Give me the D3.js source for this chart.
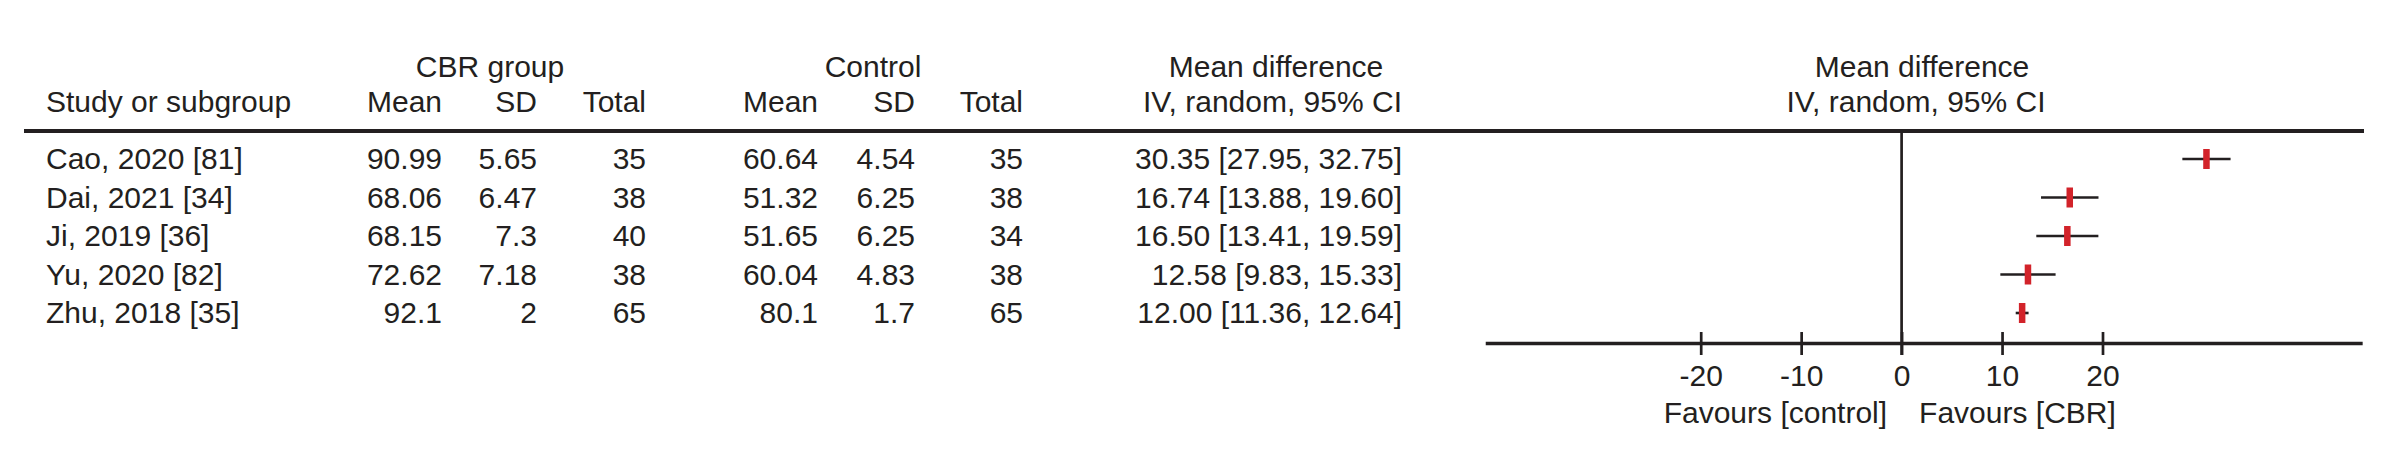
<!DOCTYPE html>
<html>
<head>
<meta charset="utf-8">
<script src="https://cdn.jsdelivr.net/npm/d3@7"></script>
<style>
  html, body { margin: 0; padding: 0; background: #ffffff; }
  svg { display: block; }
  text { font-family: "Liberation Sans", Arial, sans-serif; font-size: 30px; fill: #231f20; }
</style>
</head>
<body>
<svg id="chart" width="2405" height="454"></svg>
<script>
// ---------- data ----------
const studies   = ["Cao, 2020 [81]", "Dai, 2021 [34]", "Ji, 2019 [36]", "Yu, 2020 [82]", "Zhu, 2018 [35]"];
const cbrMean   = [90.99, 68.06, 68.15, 72.62, 92.1];
const cbrSD     = [5.65, 6.47, 7.3, 7.18, 2];
const cbrTotal  = [35, 38, 40, 38, 65];
const ctlMean   = [60.64, 51.32, 51.65, 60.04, 80.1];
const ctlSD     = [4.54, 6.25, 6.25, 4.83, 1.7];
const ctlTotal  = [35, 38, 34, 38, 65];
const mdValue   = [30.35, 16.74, 16.50, 12.58, 12.00];
const mdLower   = [27.95, 13.88, 13.41, 9.83, 11.36];
const mdUpper   = [32.75, 19.60, 19.59, 15.33, 12.64];
const axisTicks = [-20, -10, 0, 10, 20];
const axisExtent = [-41.4, 45.9];   // extent of the drawn axis line, in data units
const favourLeft  = "Favours [control]";
const favourRight = "Favours [CBR]";

// ---------- layout ----------
const ink = "#231f20";
const red = "#d2232a";
const svg = d3.select("#chart");
svg.append("rect").attr("width", 2405).attr("height", 454).attr("fill", "#fff");

const x = d3.scaleLinear().domain([-20, 20]).range([1700.7, 2102.5]);
const y = d3.scalePoint().domain(d3.range(studies.length)).range([158, 312]);

const headerY1 = 77, headerY2 = 112, ruleY = 131, axisY = 343.5, baseOff = 11;

// column definitions (right edges)
const cols = [
  { vals: cbrMean,  x: 442,  head: "Mean"  },
  { vals: cbrSD,    x: 537,  head: "SD"    },
  { vals: cbrTotal, x: 646,  head: "Total" },
  { vals: ctlMean,  x: 818,  head: "Mean"  },
  { vals: ctlSD,    x: 915,  head: "SD"    },
  { vals: ctlTotal, x: 1023, head: "Total" }
];

// headers
svg.append("text").attr("x", 490).attr("y", headerY1).attr("text-anchor", "middle").text("CBR group");
svg.append("text").attr("x", 873).attr("y", headerY1).attr("text-anchor", "middle").text("Control");
svg.append("text").attr("x", 1276).attr("y", headerY1).attr("text-anchor", "middle").text("Mean difference");
svg.append("text").attr("x", 1402).attr("y", headerY2).attr("text-anchor", "end").text("IV, random, 95% CI");
svg.append("text").attr("x", 1922).attr("y", headerY1).attr("text-anchor", "middle").text("Mean difference");
svg.append("text").attr("x", 1916).attr("y", headerY2).attr("text-anchor", "middle").text("IV, random, 95% CI");
svg.append("text").attr("x", 46).attr("y", headerY2).text("Study or subgroup");
cols.forEach(c => {
  svg.append("text").attr("x", c.x).attr("y", headerY2).attr("text-anchor", "end").text(c.head);
});

// header rule
svg.append("line").attr("x1", 24).attr("x2", 2364).attr("y1", ruleY).attr("y2", ruleY)
  .attr("stroke", ink).attr("stroke-width", 3.8);

// study names
svg.selectAll("text.study").data(studies).join("text")
  .attr("class", "study").attr("x", 46).attr("y", (d, i) => y(i) + baseOff).text(d => d);

// numeric columns
cols.forEach(c => {
  svg.append("g").selectAll("text").data(c.vals).join("text")
    .attr("x", c.x).attr("y", (d, i) => y(i) + baseOff).attr("text-anchor", "end")
    .text(d => String(d));
});

// CI text
svg.append("g").selectAll("text").data(mdValue).join("text")
  .attr("x", 1402).attr("y", (d, i) => y(i) + baseOff).attr("text-anchor", "end")
  .text((d, i) => `${d.toFixed(2)} [${mdLower[i].toFixed(2)}, ${mdUpper[i].toFixed(2)}]`);

// zero line
svg.append("line").attr("x1", x(0)).attr("x2", x(0)).attr("y1", ruleY).attr("y2", axisY + 11.5)
  .attr("stroke", ink).attr("stroke-width", 2.7);

// axis line
svg.append("line").attr("x1", x(axisExtent[0])).attr("x2", x(axisExtent[1]))
  .attr("y1", axisY).attr("y2", axisY).attr("stroke", ink).attr("stroke-width", 3.3);

// ticks and labels via d3 axis
const axisG = svg.append("g").attr("transform", `translate(0,${axisY - 11.5})`)
  .call(d3.axisBottom(x).tickValues(axisTicks).tickSize(23).tickPadding(10).tickFormat(d => String(d)));
axisG.select(".domain").remove();
axisG.selectAll(".tick line").attr("stroke", ink).attr("stroke-width", 2.7);
axisG.selectAll(".tick text").attr("fill", ink)
  .style("font-family", '"Liberation Sans", Arial, sans-serif').style("font-size", "30px");

// favours labels
svg.append("text").attr("x", x(0) - 14.5).attr("y", 423).attr("text-anchor", "end").text(favourLeft);
svg.append("text").attr("x", x(0) + 17.5).attr("y", 423).attr("text-anchor", "start").text(favourRight);

// CI lines
svg.append("g").selectAll("line").data(mdValue).join("line")
  .attr("x1", (d, i) => x(mdLower[i])).attr("x2", (d, i) => x(mdUpper[i]))
  .attr("y1", (d, i) => y(i) + 1).attr("y2", (d, i) => y(i) + 1)
  .attr("stroke", ink).attr("stroke-width", 2.6);

// point markers
const mw = 6.5, mh = 20;
svg.append("g").selectAll("rect").data(mdValue).join("rect")
  .attr("x", d => x(d) - mw / 2).attr("y", (d, i) => y(i) + 1 - mh / 2)
  .attr("width", mw).attr("height", mh).attr("fill", red);
</script>
</body>
</html>
